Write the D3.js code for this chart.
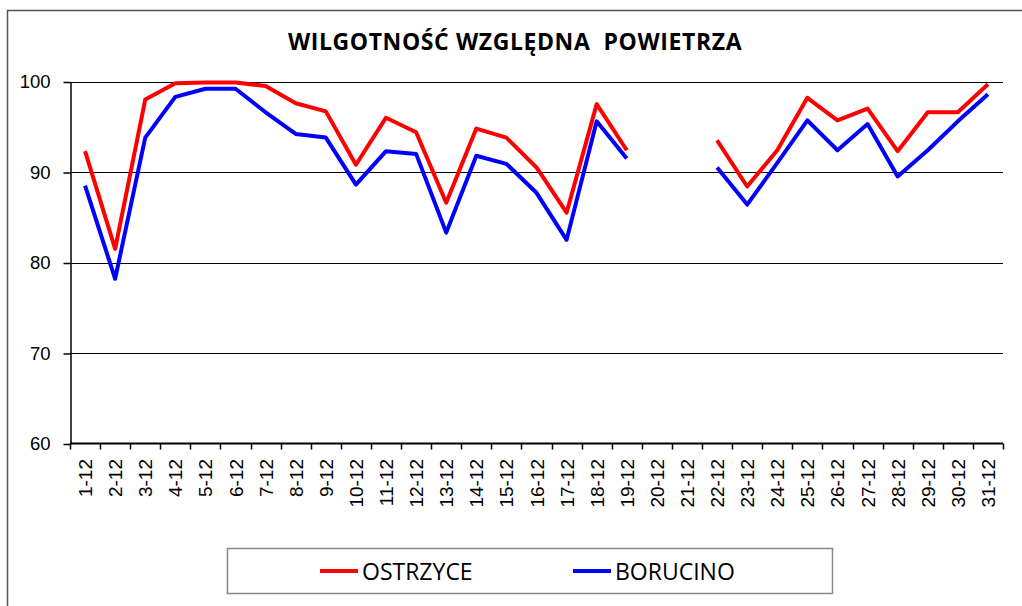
<!DOCTYPE html>
<html lang="pl">
<head>
<meta charset="UTF-8">
<title>Wilgotność względna powietrza</title>
<script src="https://cdn.jsdelivr.net/npm/d3@7"></script>
<style>
  body { margin: 0; background: #fff; }
</style>
</head>
<body>
</body>
<script>
    // categories (days of December)
    const days = ["1-12","2-12","3-12","4-12","5-12","6-12","7-12","8-12","9-12","10-12",
        "11-12","12-12","13-12","14-12","15-12","16-12","17-12","18-12","19-12","20-12",
        "21-12","22-12","23-12","24-12","25-12","26-12","27-12","28-12","29-12","30-12","31-12"];

    // relative humidity, % (null = no data)
    const ostrzyce = [92.3, 81.5, 98.0, 99.8, 99.9, 99.9, 99.5, 97.6, 96.7, 90.8,
        96.0, 94.4, 86.6, 94.8, 93.8, 90.5, 85.5, 97.5, 92.4, null,
        null, 93.5, 88.4, 92.4, 98.2, 95.7, 97.0, 92.3, 96.6, 96.6, 99.7];
    const borucino = [88.5, 78.2, 93.8, 98.3, 99.2, 99.2, 96.6, 94.2, 93.8, 88.6,
        92.3, 92.0, 83.3, 91.8, 90.9, 87.7, 82.5, 95.6, 91.5, null,
        null, 90.5, 86.4, 91.0, 95.7, 92.4, 95.3, 89.5, 92.4, 95.6, 98.6];

    const yTicks = [60, 70, 80, 90, 100];
    const seriesNames = ["OSTRZYCE", "BORUCINO"];
    const seriesColors = ["#ff0000", "#0000ff"];

    const width = 1022, height = 606;

    const svg = d3.select("body").append("svg")
        .attr("width", width)
        .attr("height", height)
        .style("display", "block");

    // outer chart border (cut off at right and bottom like the original)
    svg.append("rect")
        .attr("x", 7.5).attr("y", 10.5)
        .attr("width", 1040).attr("height", 640)
        .attr("fill", "#fff")
        .attr("stroke", "#555").attr("stroke-width", 1.5);

    // title
    svg.append("text")
        .attr("x", 515).attr("y", 50)
        .attr("text-anchor", "middle")
        .attr("font-family", "'Open Sans', sans-serif")
        .attr("font-weight", "bold")
        .attr("font-size", 23)
        .attr("letter-spacing", 0.6)
        .attr("xml:space", "preserve")
        .text("WILGOTNOŚĆ WZGLĘDNA  POWIETRZA");

    const x = d3.scaleBand().domain(days).range([70, 1003]).padding(0);
    const y = d3.scaleLinear().domain([60, 100]).range([443.5, 81.5]);
    const cx = d => x(d) + x.bandwidth() / 2;

    // gridlines
    svg.append("g")
        .selectAll("line")
        .data(yTicks.filter(t => t > 60))
        .join("line")
        .attr("x1", 70).attr("x2", 1003)
        .attr("y1", d => Math.round(y(d)) + 0.5)
        .attr("y2", d => Math.round(y(d)) + 0.5)
        .attr("stroke", "#000").attr("stroke-width", 1);

    // y axis
    const yAxis = svg.append("g")
        .attr("transform", "translate(70.5,0.5)")
        .call(d3.axisLeft(y).tickValues(yTicks).tickSize(7).tickSizeOuter(0).tickPadding(13));
    yAxis.select(".domain").attr("stroke", "#000").attr("stroke-width", 1.5);
    yAxis.selectAll(".tick line").attr("stroke", "#000").attr("stroke-width", 1.5);
    yAxis.selectAll("text")
        .attr("font-family", "'Liberation Sans', Arial, sans-serif")
        .attr("font-size", 18.5)
        .attr("fill", "#000");

    // x axis: line + ticks on band boundaries
    const xAxis = svg.append("g");
    xAxis.append("line")
        .attr("x1", 70).attr("x2", 1003)
        .attr("y1", y(60)).attr("y2", y(60))
        .attr("stroke", "#000").attr("stroke-width", 2);
    xAxis.selectAll(".tk")
        .data(days.map(d => x(d)).concat([x.range()[1]]))
        .join("line")
        .attr("class", "tk")
        .attr("x1", d => Math.round(d) + 0.5).attr("x2", d => Math.round(d) + 0.5)
        .attr("y1", y(60)).attr("y2", y(60) + 6)
        .attr("stroke", "#000").attr("stroke-width", 1.5);
    xAxis.selectAll(".lbl")
        .data(days)
        .join("text")
        .attr("class", "lbl")
        .attr("transform", d => `translate(${cx(d) + 7},459) rotate(-90)`)
        .attr("text-anchor", "end")
        .attr("font-family", "'Liberation Sans', Arial, sans-serif")
        .attr("font-size", 19)
        .attr("fill", "#000")
        .text(d => d);

    // lines
    const line = d3.line()
        .defined(d => d.v != null)
        .x(d => cx(d.day))
        .y(d => y(d.v));

    [ostrzyce, borucino].forEach((vals, i) => {
        svg.append("path")
            .datum(days.map((day, j) => ({ day: day, v: vals[j] })))
            .attr("fill", "none")
            .attr("stroke", seriesColors[i])
            .attr("stroke-width", 4)
            .attr("stroke-linejoin", "round")
            .attr("d", line);
    });

    // legend
    const legend = svg.append("g");
    legend.append("rect")
        .attr("x", 227.5).attr("y", 548.5)
        .attr("width", 605).attr("height", 45)
        .attr("fill", "#fff")
        .attr("stroke", "#888").attr("stroke-width", 1.5);
    const legX = [320, 573];
    seriesNames.forEach((name, i) => {
        legend.append("line")
            .attr("x1", legX[i]).attr("x2", legX[i] + 38)
            .attr("y1", 571).attr("y2", 571)
            .attr("stroke", seriesColors[i]).attr("stroke-width", 4);
        legend.append("text")
            .attr("x", legX[i] + 42).attr("y", 580)
            .attr("font-family", "'Open Sans', sans-serif")
            .attr("font-size", 23)
            .attr("fill", "#000")
            .text(name);
    });
</script>
</html>
